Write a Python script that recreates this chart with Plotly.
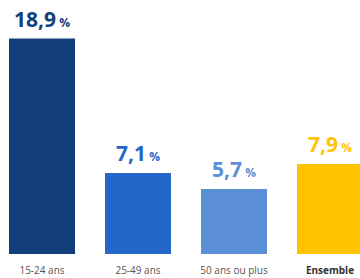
import plotly.graph_objects as go

categories = ["15-24 ans", "25-49 ans", "50 ans ou plus", "Ensemble"]
values = [18.9, 7.1, 5.7, 7.9]
value_labels = ["18,9", "7,1", "5,7", "7,9"]
colors = ["#123f7b", "#2567c9", "#5b8fd6", "#ffc300"]

tick_text = [c if c != "Ensemble" else "<b><span style='color:#333333'>Ensemble</span></b>" for c in categories]

fig = go.Figure()
fig.add_trace(go.Bar(
    x=categories,
    y=values,
    marker=dict(color=colors, line=dict(width=0)),
    width=0.6875,
    hoverinfo="skip",
    cliponaxis=False,
))

annotations = []
for c, v, lab, col in zip(categories, values, value_labels, colors):
    annotations.append(dict(
        x=c, y=v, xref="x", yref="y",
        text=f"<b>{lab}</b><span style='font-size:12px'><b> %</b></span>",
        showarrow=False, yanchor="bottom", xanchor="center",
        yshift=4,
        font=dict(family="Open Sans", size=21, color=col),
    ))

fig.update_layout(
    width=360, height=278,
    margin=dict(l=0, r=0, t=0, b=24, autoexpand=False),
    paper_bgcolor="white",
    plot_bgcolor="white",
    showlegend=False,
    annotations=annotations,
    xaxis=dict(
        range=[-0.4375, 3.3125],
        tickmode="array",
        tickvals=categories,
        ticktext=tick_text,
        tickfont=dict(family="Open Sans", size=10, color="#555555"),
        showgrid=False, zeroline=False, showline=False,
        ticks="",
        automargin=False,
        ticklabelstandoff=9,
    ),
    yaxis=dict(
        range=[0, 254 / 11.4],
        visible=False,
        automargin=False,
        showgrid=False, zeroline=False,
    ),
)

fig.write_html(
    "out.html",
    config={"displayModeBar": False},
    post_script="document.body.style.margin='0';document.body.style.overflow='hidden';",
)
